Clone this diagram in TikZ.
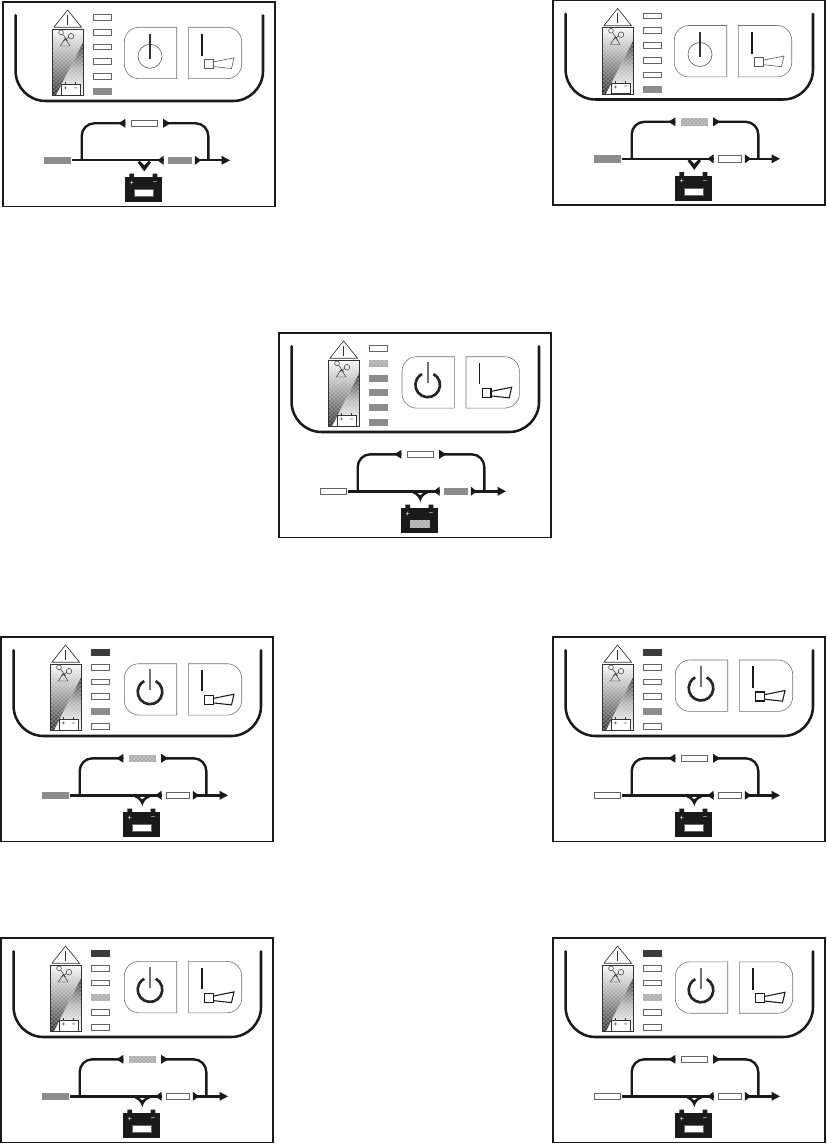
\documentclass[tikz,border=0pt]{standalone}
\usepackage{fontspec}
\setmainfont{Liberation Sans}
\usetikzlibrary{calc,patterns}
\definecolor{ledg}{HTML}{8C8C8C}
\definecolor{ledd}{HTML}{ADADAD}
\definecolor{ledk}{HTML}{3A3A3A}
\definecolor{ink}{HTML}{1A1A1A}
\tikzset{
  framebox/.style={draw=ink,line width=1.2pt},
  trough/.style={draw=ink,line width=1.9pt,line cap=round},
  flow/.style={draw=ink,line width=1.8pt},
  head/.style={fill=ink,draw=none},
  thinbox/.style={draw=black!55,line width=.45pt},
  rectnode/.style={inner sep=0pt,outer sep=0pt,rectangle},
  wled/.style={rectnode,draw=black!60,line width=.5pt,fill=white},
  gled/.style={rectnode,draw=ledg,line width=.3pt,fill=ledg},
  dled/.style={rectnode,draw=ledd,line width=.3pt,fill=ledd,postaction={pattern=crosshatch dots,pattern color=white}},
  kled/.style={rectnode,draw=ledk,line width=.3pt,fill=ledk,postaction={pattern=crosshatch dots,pattern color=black!70!white}},
  panelled/.style={minimum width=13.7pt,minimum height=4.4pt},
  wideled/.style={minimum width=19.3pt,minimum height=4.8pt},
  lowled/.style={minimum width=16.8pt,minimum height=4.8pt},
  icon/.style={draw=black!80,line width=.35pt},
  plusw/.style={inner sep=0pt,text=white,font=\fontsize{5.5}{5.5}\selectfont},
  plusk/.style={inner sep=0pt,text=black,font=\fontsize{4.6}{4.6}\selectfont},
}
\newcommand\panelat[5]{\def\pn{#1}\def\px{#2}\def\py{#3}\def\bdx{#4}\def\bdy{#5}}
% #1 leds  #2 upper  #3 left  #4 lower  #5 battery window  #6 variant
\newcommand\drawpanel[6]{%
\begin{scope}[shift={(\px,\py)},name prefix=\pn-]
  \draw[framebox] (0,0) rectangle (272,204.5);
  \draw[trough] (12.6,13.3) -- (12.6,69) arc[start angle=180,end angle=90,radius=30] -- (230,99) arc[start angle=90,end angle=0,radius=30] -- (260,13.3);
  % warning triangle
  \draw[icon,line width=.5pt,line join=round] (64.6,8) -- (78.6,25.3) -- (50.8,25.3) -- cycle;
  \draw[icon] (64.6,13) -- (64.6,23);
  % gradient column
  \begin{scope}
    \clip (49.3,27.3) -- (80.3,27.3) -- (80.3,39.7) -- (53,93.7) -- (49.3,93.7) -- cycle;
    \shade[top color=black!3,bottom color=black!27] (49.3,27.3) rectangle (80.3,50);
    \shade[top color=black!27,bottom color=black!80] (49.3,50) rectangle (80.3,93.7);
  \end{scope}
  \begin{scope}
    \clip (80.3,39.7) -- (53,93.7) -- (80.3,93.7) -- cycle;
    \shade[top color=black!80,bottom color=black!28] (49.3,38) rectangle (80.3,66);
    \shade[top color=black!28,bottom color=black!0] (49.3,66) rectangle (80.3,93.7);
  \end{scope}
  \fill[pattern=crosshatch dots,pattern color=white] (49.3,27.3) rectangle (80.3,93.7);
  \draw[draw=black!80,line width=.5pt] (49.3,27.3) rectangle (80.3,93.7);
  \draw[icon] (58,30.3) circle (2.4);
  \draw[icon] (68,34.2) circle (2.8);
  \draw[icon] (59.6,32.2) -- (64.6,39) (65.7,35.4) -- (60.4,39);
  \draw[icon] (62.2,36.4) -- (57.3,44) -- (67,44) -- cycle;
  \draw[icon,fill=white] (58,82.3) rectangle (77,93);
  \draw[icon] (62.3,82.3) -- (62.3,80.3) (72.7,82.3) -- (72.7,80.3);
  \node[plusk] (cplus) at (62.3,87.2) {+};
  \node[plusk] (cminus) at (72.7,87.2) {−};
  % leds
  \foreach \s [count=\i from 0] in {#1} {
    \pgfmathsetmacro\ly{15.3+14.75*\i}
    \node[\s,panelled] (led\i) at (99,\ly) {};
  }
  % operator boxes
  \begin{scope}[shift={(\bdx,\bdy)}]
    \draw[thinbox] (173.7,25.3) [rounded corners=11pt] -- (121.3,25.3) -- (121.3,76.7) [sharp corners] -- (173.7,76.7) -- cycle;
    \draw[thinbox] (185.3,25.3) [rounded corners=11pt] -- (238.7,25.3) -- (238.7,76.7) [sharp corners] -- (185.3,76.7) -- cycle;
    \if#6A
      \draw[draw=black!65,line width=.45pt] (147,54.3) circle (12);
      \draw[draw=black!80,line width=2.1pt] (147,32) -- (147,57);
      \draw[draw=ink,line width=1pt] (199,32) -- (199,54);
      \draw[draw=black!65,line width=.45pt] (201.7,57.3) rectangle (210.3,66.3);
      \draw[draw=black!65,line width=.45pt,line join=miter] (210.3,60) -- (231,55.8) -- (228.5,66.5) -- (210.3,64.5);
    \else
      \draw[draw=black!85,line width=2pt] (147,53.5) ++(-62:12.3) arc[start angle=-62,end angle=242,radius=12.3];
      \draw[draw=black!55,line width=1.4pt] (147,31) -- (147,52);
      \draw[draw=ink,line width=1.1pt] (199,31.5) -- (199,53);
      \draw[draw=ink,line width=.9pt] (201.7,57.3) rectangle (210.3,66.3);
      \draw[draw=ink,line width=.8pt,line join=miter] (210.3,60) -- (231,55.8) -- (228.5,66.5) -- (210.3,64.5);
    \fi
  \end{scope}
  % flow diagram
  \node[#2,wideled] (up) at (141.3,121.3) {};
  \node[#3,wideled] (lft) at (54.5,158.3) {};
  \node[#4,lowled] (low) at (176.7,158.3) {};
  \node[rectnode,fill=ink,minimum width=27.3pt,minimum height=18.5pt] (bat) at (140.5,187.7) {};
  \node[#5,minimum width=14pt,minimum height=5.4pt] (win) at (140.5,191) {};
  \fill[ink] (126.3,171.7) rectangle (131,176) (149.7,171.7) rectangle (154.3,176);
  \node[plusw] (bplus) at (128.7,181.3) {+};
  \node[plusw] (bminus) at (152,181.3) {−};
  \coordinate (upL) at ($(up.west)+(-6,0)$);
  \coordinate (upR) at ($(up.east)+(6,0)$);
  \coordinate (lowL) at ($(low.west)+(-5,0)$);
  \coordinate (lowR) at ($(low.east)+(4,0)$);
  \coordinate (outE) at (227,158.3);
  \coordinate (jL) at (78.7,158.3);
  \coordinate (jR) at (205.3,158.3);
  \coordinate (tip) at ($(bat.north)+(0.8,-6)$);
  \draw[flow] ($(lft.east)+(2,0)$) -- (lowL);
  \draw[flow] (lowR) -- (220,158.3);
  \draw[flow,rounded corners=9.5pt] (jL) |- (upL);
  \draw[flow,rounded corners=9.5pt] (upR) -| (jR);
  \fill[head] (upL) ++(-7,0) -- ++(7,-4.5) -- ++(0,9) -- cycle;
  \fill[head] (upR) ++(7,0) -- ++(-7,-4.5) -- ++(0,9) -- cycle;
  \fill[head] (lowL) ++(-6,0) -- ++(6,-4.5) -- ++(0,9) -- cycle;
  \fill[head] (lowR) ++(6,0) -- ++(-6,-4.5) -- ++(0,9) -- cycle;
  \fill[head] (outE) -- ++(-8.5,-4.5) -- ++(0,9) -- cycle;
  \if#6A
    \fill[head] (tip) -- ++(-6.7,-9) -- ++(2.2,-1.5) -- ++(4.5,4.5) -- ++(4.5,-4.5) -- ++(2.2,1.5) -- cycle;
  \else
    \fill[head] (tip) .. controls ($(tip)+(-1,-4)$) and ($(tip)+(-3,-7.5)$) .. ($(tip)+(-7.5,-9)$)
      -- ($(tip)+(-7.5,-10.5)$) .. controls ($(tip)+(-4,-10)$) and ($(tip)+(-1,-9)$) .. ($(tip)+(0,-7)$)
      .. controls ($(tip)+(1,-9)$) and ($(tip)+(4,-10)$) .. ($(tip)+(7.5,-10.5)$)
      -- ($(tip)+(7.5,-9)$) .. controls ($(tip)+(3,-7.5)$) and ($(tip)+(1,-4)$) .. (tip) -- cycle;
  \fi
\end{scope}}
\begin{document}
\begin{tikzpicture}[x=0.75pt,y=-0.75pt]
\useasboundingbox (0,0) rectangle (826,1145);
\fill[white] (0,0) rectangle (826,1145);
\panelat{p1}{3}{2}{0}{0}
\drawpanel{wled,wled,wled,wled,wled,gled}{wled}{gled}{gled}{wled}{A}
\panelat{p2}{553}{0.5}{0}{-0.3}
\drawpanel{wled,wled,wled,wled,wled,gled}{dled}{gled}{wled}{wled}{A}
\panelat{p3}{279}{333}{1.7}{-1.6}
\drawpanel{wled,dled,gled,gled,gled,gled}{wled}{wled}{gled}{dled}{B}
\panelat{p4}{1}{637}{2}{1.4}
\drawpanel{kled,wled,wled,wled,gled,wled}{dled}{gled}{wled}{wled}{B}
\panelat{p5}{553}{637}{1}{-2.3}
\drawpanel{kled,wled,wled,wled,gled,wled}{wled}{wled}{wled}{wled}{B}
\panelat{p6}{1}{938}{2}{-1.9}
\drawpanel{kled,wled,wled,dled,wled,wled}{dled}{gled}{wled}{wled}{B}
\panelat{p7}{553}{938}{1}{-1.5}
\drawpanel{kled,wled,wled,dled,wled,wled}{wled}{wled}{wled}{wled}{B}
\end{tikzpicture}
\end{document}
